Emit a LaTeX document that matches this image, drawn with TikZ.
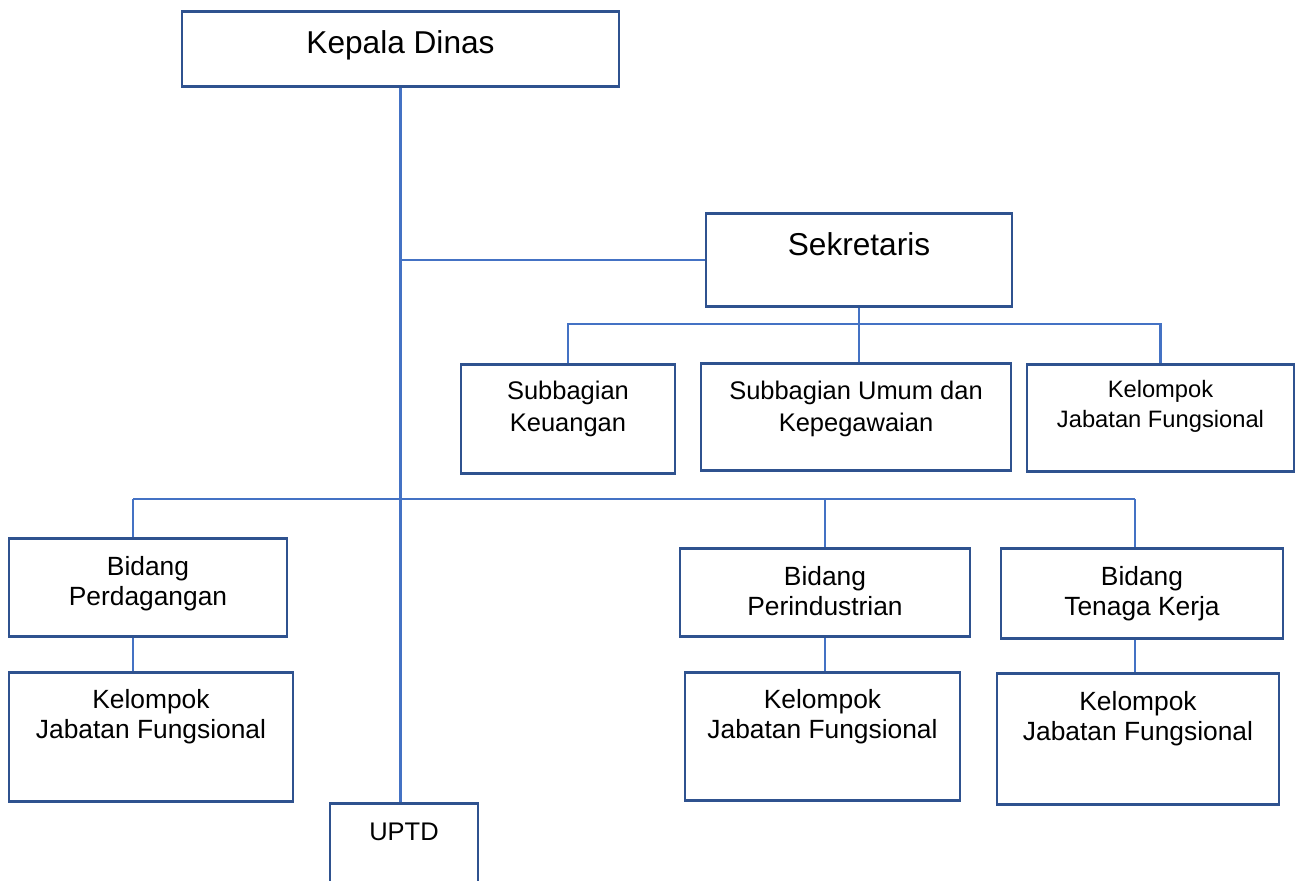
\documentclass[tikz,border=0pt]{standalone}
\usepackage{fontspec}
\setmainfont{Liberation Sans}
\usetikzlibrary{positioning}
\definecolor{boxline}{HTML}{2F528F}
\definecolor{linkline}{HTML}{4472C4}
\begin{document}
\begin{tikzpicture}[x=0.02cm, y=-0.02cm,
  unit/.style={draw=boxline, line width=1.5pt, inner sep=0pt, anchor=north, align=center},
  conn/.style={draw=linkline, line width=1.4pt},
  big/.style={font=\fontsize{18}{21}\selectfont},
  mid/.style={font=\fontsize{14.5}{18.2}\selectfont},
  std/.style={font=\fontsize{15}{17}\selectfont},
  sml/.style={font=\fontsize{13.5}{17}\selectfont}]
  \useasboundingbox (0,0) rectangle (1301,880);
  % pimpinan
  \node[unit, big, minimum width=8.74cm, text height=0.84cm, text depth=0.66cm] (kd) at (400.5,10) {Kepala Dinas};
  \node[unit, big, minimum width=6.12cm, text height=0.84cm, text depth=1.02cm] (sek) at (859,212) {Sekretaris};
  % sekretariat
  \node[unit, mid, minimum width=4.28cm, text height=1.342cm, text depth=0.838cm] (sk) at (568,363) {Subbagian\\Keuangan};
  \node[unit, mid, minimum width=6.2cm, text height=1.362cm, text depth=0.778cm] (su) at (856,362) {Subbagian Umum dan\\Kepegawaian};
  \node[unit, sml, minimum width=5.34cm, text height=1.26cm, text depth=0.88cm] (kjt) at (1160.5,363) {Kelompok\\Jabatan Fungsional};
  % bidang
  \node[unit, std, minimum width=5.56cm, text height=1.34cm, text depth=0.62cm] (bp) at (148,537) {Bidang\\Perdagangan};
  \node[unit, std, minimum width=5.8cm, text height=1.34cm, text depth=0.42cm] (bpi) at (825,547) {Bidang\\Perindustrian};
  \node[unit, std, minimum width=5.64cm, text height=1.34cm, text depth=0.46cm] (btk) at (1142,547) {Bidang\\Tenaga Kerja};
  % kelompok jabatan fungsional
  \node[unit, std, minimum width=5.68cm, text height=1.32cm, text depth=1.26cm] (kjl) at (151,671) {Kelompok\\Jabatan Fungsional};
  \node[unit, std, minimum width=5.5cm, text height=1.32cm, text depth=1.24cm] (kjm) at (822.5,671) {Kelompok\\Jabatan Fungsional};
  \node[unit, std, minimum width=5.64cm, text height=1.34cm, text depth=1.28cm] (kjr) at (1138,672) {Kelompok\\Jabatan Fungsional};
  \node[unit, mid, minimum width=2.96cm, text height=0.74cm, text depth=1.56cm] (uptd) at (404,802) {UPTD};

  \coordinate (sbar) at (857,324);
  \coordinate (bl) at (133,499);
  \coordinate (br) at (1135,499);

  \draw[conn] (kd.south) -- (kd.south |- uptd.north);
  \draw[conn] (kd.south |- sek.west) -- (sek.west);
  \draw[conn] (sek.south) -- (sek.south |- su.north);
  \draw[conn] (sk.north) |- (sbar) -| (kjt.north);
  \draw[conn] (bl) -- (br);
  \draw[conn] (bl) -- (bl |- bp.north);
  \draw[conn] (bpi.north |- bl) -- (bpi.north);
  \draw[conn] (br) -- (br |- btk.north);
  \draw[conn] (bl |- bp.south) -- (bl |- kjl.north);
  \draw[conn] (bpi.south) -- (bpi.south |- kjm.north);
  \draw[conn] (br |- btk.south) -- (br |- kjr.north);
\end{tikzpicture}
\end{document}
